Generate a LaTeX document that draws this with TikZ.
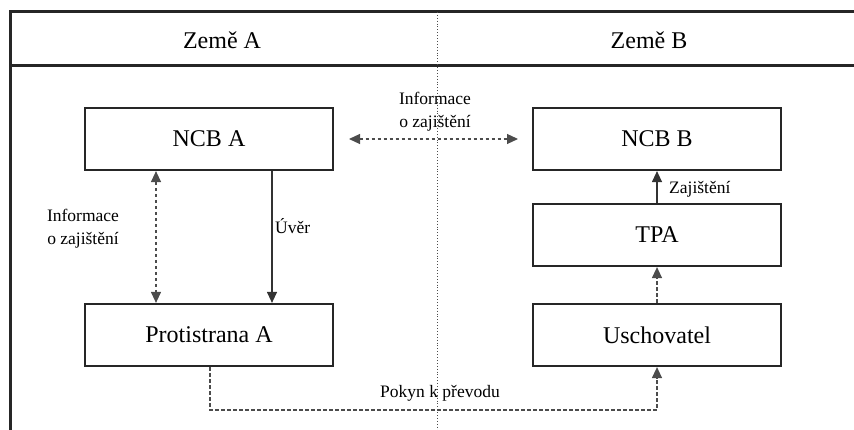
\documentclass[tikz,border=0pt]{standalone}
\usepackage{fontspec}
\setmainfont{Liberation Serif}
\usetikzlibrary{arrows.meta,calc}
\tikzset{
  frame/.style={line width=3pt, draw=black!85},
  box/.style={draw=black!85, line width=2.2pt, minimum width=248pt, minimum height=62pt, inner sep=0pt, font=\fontsize{24}{27}\selectfont},
  head/.style={font=\fontsize{24}{27}\selectfont},
  lbl/.style={font=\fontsize{17.5}{23}\selectfont, align=center, inner sep=1pt},
  tip/.style={-{Triangle[length=11pt,width=10pt]}},
  tips/.style={{Triangle[length=11pt,width=10pt]}-{Triangle[length=11pt,width=10pt]}},
  dsh/.style={dash pattern=on 3.5pt off 2.5pt, line width=1.2pt, draw=black!70},
  sld/.style={line width=1.2pt, draw=black!80},
}
\begin{document}
\begin{tikzpicture}[x=1pt,y=-1pt]
\useasboundingbox (0,0) rectangle (854,430);
% frame with header row
\draw[frame] (10,430) -- (10,12) -- (854,12);
\draw[frame] (10,66) -- (854,66);
% border between the two countries
\draw[dotted, line width=0.9pt, draw=black!70] (437,12) -- (437,430);
\node[head] (za) at (222,40) {Země A};
\node[head] (zb) at (649,40) {Země B};
% institutions
\node[box] (ncba) at (209,139) {NCB A};
\node[box] (prot) at (209,335) {Protistrana A};
\node[box] (ncbb) at (657,139) {NCB B};
\node[box] (tpa) at (657,235) {TPA};
\node[box] (usch) at (657,335) {Uschovatel};
% connectors on side A
\draw[dsh,tips] (ncba.south -| 156,0) -- (prot.north -| 156,0);
\draw[sld,tip] (ncba.south -| 272,0) -- (prot.north -| 272,0);
\node[lbl] (infa) at (83,229) {Informace\\o zajištění};
\node[lbl, anchor=west] (uver) at (274,226) {Úvěr};
% cross-border information
\coordinate (hl) at (349,139);
\coordinate (hr) at (518,139);
\draw[dsh,tips] (hl) -- (hr);
\node[lbl] (infc) at (435,112) {Informace\\o zajištění};
% connectors on side B
\draw[sld,tip] (tpa.north) -- (ncbb.south);
\node[lbl, anchor=west] (zaj) at (668,189) {Zajištění};
\draw[dsh,tip] (usch.north) -- (tpa.south);
% transfer instruction
\coordinate (b1) at (210,410);
\coordinate (b2) at (657,410);
\draw[dsh,tip] (prot.south -| b1) -- (b1) -- (b2) -- (usch.south);
\node[lbl] (pok) at (440,393) {Pokyn k převodu};
\end{tikzpicture}
\end{document}
